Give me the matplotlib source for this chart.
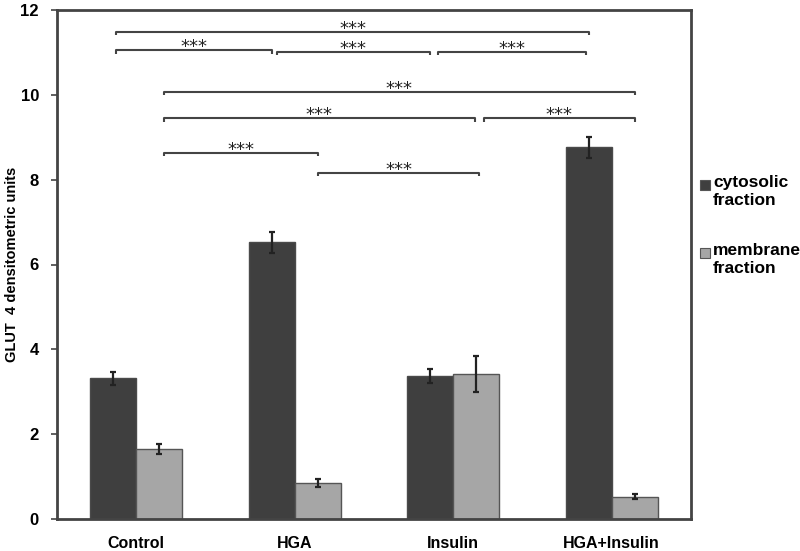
import matplotlib
matplotlib.use("Agg")
import matplotlib.pyplot as plt
from matplotlib.patches import Rectangle
import numpy as np

plt.rcParams['font.family'] = ['Liberation Sans', 'DejaVu Sans']

categories = ["Control", "HGA", "Insulin", "HGA+Insulin"]
cytosolic = [3.32, 6.52, 3.37, 8.76]
cytosolic_err = [0.15, 0.25, 0.17, 0.25]
membrane = [1.65, 0.85, 3.42, 0.53]
membrane_err = [0.12, 0.09, 0.42, 0.05]
series_labels = ["cytosolic\nfraction", "membrane\nfraction"]
yticks = [0, 2, 4, 6, 8, 10, 12]

# significance brackets: (series_a, group_a, series_b, group_b, height, label)
brackets = [
    ("c", 0, "c", 3, 11.49, "***"),
    ("c", 0, "c", 1, 11.05, "***"),
    ("c", 1, "c", 2, 11.02, "***"),
    ("c", 2, "c", 3, 11.02, "***"),
    ("m", 0, "m", 3, 10.07, "***"),
    ("m", 0, "m", 2, 9.45, "***"),
    ("m", 2, "m", 3, 9.45, "***"),
    ("m", 0, "m", 1, 8.63, "***"),
    ("m", 1, "m", 2, 8.16, "***"),
]
# small horizontal insets of bracket ends (style)
bracket_insets = [(0.02, 0.0), (0.02, 0.0), (0.03, 0.0), (0.05, 0.02),
                  (0.03, 0.0), (0.03, 0.01), (0.05, 0.0), (0.03, 0.0), (0.0, -0.02)]

c_col = "#3f3f3f"
m_col = "#a6a6a6"
edge = "#4a4a4a"
spine_col = "#444444"

fig = plt.figure(figsize=(8, 5.51), dpi=100)
ax = fig.add_axes([57/800, 1 - 519/551, (691-57)/800, (519-10)/551])

x = np.arange(len(categories))
w = 0.29
ax.bar(x - w/2, cytosolic, w, color=c_col, edgecolor=edge, linewidth=1.0, zorder=2)
ax.bar(x + w/2, membrane, w, color=m_col, edgecolor="#555555", linewidth=1.0, zorder=2)
ax.errorbar(x - w/2, cytosolic, yerr=cytosolic_err, fmt="none", ecolor="#222222",
            elinewidth=1.6, capsize=2.5, capthick=1.6, zorder=3)
ax.errorbar(x + w/2, membrane, yerr=membrane_err, fmt="none", ecolor="#222222",
            elinewidth=1.6, capsize=2.5, capthick=1.6, zorder=3)

ax.set_xlim(-0.5, 3.5)
ax.set_ylim(0, 12)
ax.set_yticks(yticks)
ax.set_yticklabels([str(t) for t in yticks], fontsize=12, fontweight="bold")
ax.set_xticks(x)
ax.set_xticklabels(categories, fontsize=11.5, fontweight="bold")
ax.tick_params(axis="x", length=0, pad=12)
ax.tick_params(axis="y", length=4, width=1.2, color=spine_col, pad=9)
for s in ax.spines.values():
    s.set_color(spine_col)
    s.set_linewidth(2)
ax.set_ylabel("GLUT  4 densitometric units", fontsize=10.5, fontweight="bold")
ax.yaxis.set_label_coords((19 - 57) / 634, 0.5)

def pos(series, g):
    return g - w/2 if series == "c" else g + w/2

tick_h = 0.08
for (sa, ga, sb, gb, h, lab), (ia, ib) in zip(brackets, bracket_insets):
    x0 = pos(sa, ga) + ia
    x1 = pos(sb, gb) - ib
    ax.plot([x0, x0, x1, x1], [h - tick_h, h, h, h - tick_h], color="#444444",
            lw=1.5, solid_capstyle="butt", zorder=4)
    ax.text((x0 + x1) / 2, h - 0.14, lab, ha="center", va="bottom", fontsize=13,
            color="#222222", family="DejaVu Sans")

# legend drawn manually
leg_items = [(c_col, series_labels[0], 185), (m_col, series_labels[1], 253)]
for col, lab, ypx in leg_items:
    fig.patches.append(Rectangle((700/800, 1 - (ypx + 5)/551), 10/800, 10/551,
                                 transform=fig.transFigure, facecolor=col,
                                 edgecolor="#555555", linewidth=0.8))
    fig.text(713/800, 1 - (ypx - 10)/551, lab, ha="left", va="top", fontsize=12.5,
             fontweight="bold", linespacing=1.25)

fig.savefig("out.png", dpi=100)
